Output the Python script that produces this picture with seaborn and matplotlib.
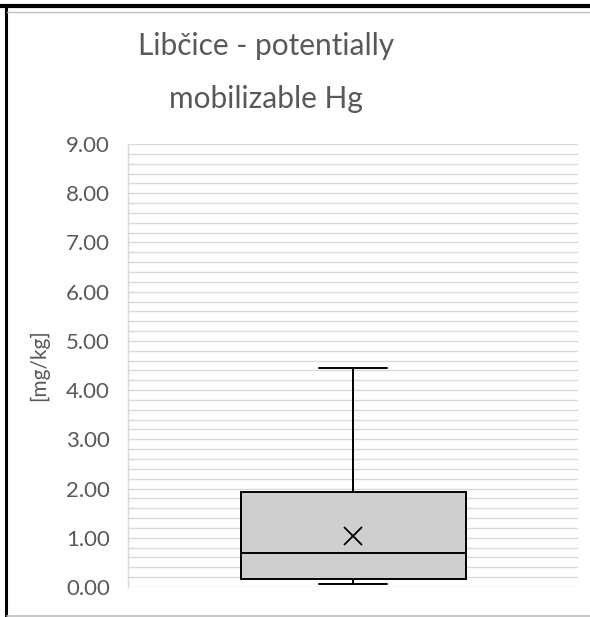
import numpy as np
import pandas as pd
import seaborn as sns
import matplotlib.pyplot as plt
from matplotlib.lines import Line2D
from matplotlib.ticker import MultipleLocator, FormatStrFormatter

# values (min 0.06, Q1 0.155, median 0.685, Q3 1.92, max 4.44, mean ~1.04)
site = 'Libčice'
hg_values = [0.06, 0.09, 0.12, 0.155, 0.30, 0.50, 0.685, 0.70, 0.72, 1.92, 1.93, 1.95, 4.44]

df = pd.DataFrame({'site': [site] * len(hg_values), 'Hg': hg_values})

sns.set_style('white')
plt.rcParams['font.family'] = ['Lato', 'DejaVu Sans']

fig = plt.figure(figsize=(5.9, 6.17), dpi=100)
ax = fig.add_axes([128 / 590, 30 / 617, 450 / 590, 443 / 617])

sns.boxplot(data=df, x='site', y='Hg', ax=ax, width=0.5, whis=(0, 100),
            color='#D0CECE', saturation=1, linecolor='black', linewidth=1.4,
            showmeans=True,
            meanprops=dict(marker='x', markeredgecolor='black', markersize=13,
                           markeredgewidth=1.3))

# narrower whisker caps like Excel
lo, hi = min(hg_values), max(hg_values)
for ln in ax.lines:
    x, y = ln.get_data()
    if len(y) == 2 and y[0] == y[1] and (np.isclose(y[0], lo) or np.isclose(y[0], hi)):
        c = (x[0] + x[1]) / 2
        ln.set_xdata([c - 0.075, c + 0.075])

ax.set_xlim(-0.5, 0.5)
ax.set_ylim(0, 9)
ax.yaxis.set_major_locator(MultipleLocator(1))
ax.yaxis.set_minor_locator(MultipleLocator(0.2))
ax.yaxis.set_major_formatter(FormatStrFormatter('%.2f'))
ax.grid(True, axis='y', which='both', color='#D9D9D9', linewidth=1.0)
ax.set_axisbelow(True)
ax.set_xticks([])
ax.set_xlabel('')
ax.tick_params(axis='y', which='both', length=0, pad=13, labelsize=16, labelcolor='#595959')
ax.set_ylabel('[mg/kg]', fontsize=15, color='#595959', labelpad=12)
for s in ['top', 'right', 'bottom']:
    ax.spines[s].set_visible(False)
ax.spines['left'].set_color('#D9D9D9')
ax.spines['left'].set_linewidth(1.0)

title_lines = ['Libčice - potentially', 'mobilizable Hg']
for txt, yb in zip(title_lines, [55, 108]):
    fig.text(266 / 590, 1 - yb / 617, txt, ha='center', va='baseline',
             fontsize=21.5, color='#595959')

# frame around the screenshot
fig.add_artist(Line2D([0, 1], [1 - 6 / 617] * 2, color='black', linewidth=3))
fig.add_artist(Line2D([6 / 590] * 2, [0, 1 - 6 / 617], color='black', linewidth=2.2))
fig.add_artist(Line2D([7 / 590, 1], [1 - 12 / 617] * 2, color='#BFBFBF', linewidth=1))
fig.add_artist(Line2D([7 / 590, 1], [1.5 / 617] * 2, color='#BFBFBF', linewidth=1.2))

fig.savefig('out.png', dpi=100)
